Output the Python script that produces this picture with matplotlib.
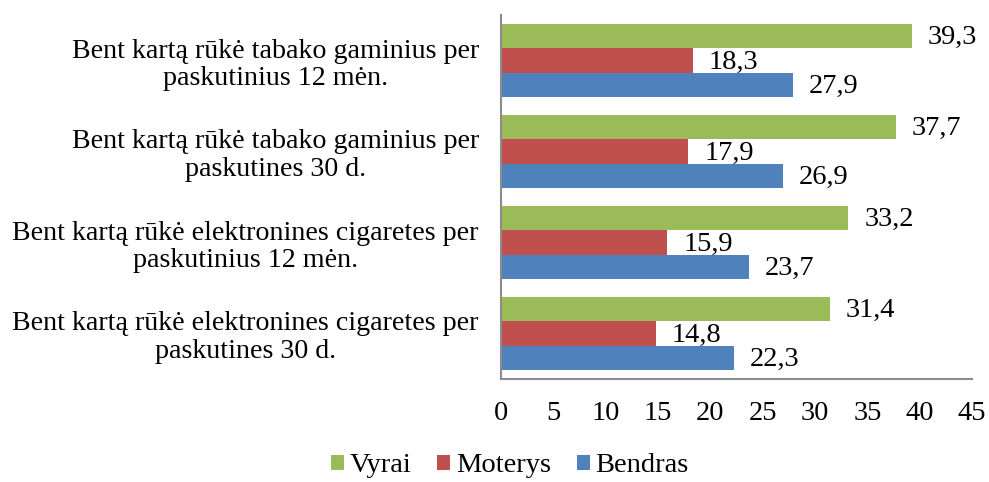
import numpy as np
import matplotlib.pyplot as plt

plt.rcParams['font.family'] = ['Liberation Serif', 'DejaVu Serif']

categories = [
    "Bent kartą rūkė tabako gaminius per\npaskutinius 12 mėn.",
    "Bent kartą rūkė tabako gaminius per\npaskutines 30 d.",
    "Bent kartą rūkė elektronines cigaretes per\npaskutinius 12 mėn.",
    "Bent kartą rūkė elektronines cigaretes per\npaskutines 30 d.",
]
vyrai = [39.3, 37.7, 33.2, 31.4]
moterys = [18.3, 17.9, 15.9, 14.8]
bendras = [27.9, 26.9, 23.7, 22.3]

series = [("Vyrai", vyrai, "#9BBB59"),
          ("Moterys", moterys, "#C0504D"),
          ("Bendras", bendras, "#4F81BD")]

fs = 20.5
fig = plt.figure(figsize=(9.89, 4.82), dpi=100)
ax = fig.add_axes([501 / 989, 1 - 379 / 482, 471 / 989, 364 / 482])

y = np.arange(len(categories))
h = 0.27
offsets = [-h, 0, h]
for (name, vals, col), off in zip(series, offsets):
    bars = ax.barh(y + off, vals, height=h, color=col, label=name)
    for b, v in zip(bars, vals):
        ax.text(b.get_width() + 1.5, b.get_y() + b.get_height() / 2 + 0.02,
                f"{v:.1f}".replace(".", ","), va="center", ha="left", fontsize=fs)

ax.set_ylim(len(categories) - 0.5, -0.5)
ax.set_xlim(0, 45)
ax.set_xticks(range(0, 46, 5))
ax.set_yticks(y)
ax.set_yticklabels(categories, fontsize=20.2, multialignment="center", linespacing=1.15)
ax.tick_params(axis="x", length=0, labelsize=fs, pad=16)
ax.tick_params(axis="y", length=0, pad=16)
for s in ["top", "right"]:
    ax.spines[s].set_visible(False)
for s in ["left", "bottom"]:
    ax.spines[s].set_color("#8c8c8c")
    ax.spines[s].set_linewidth(1.5)

fig.legend(loc="center", bbox_to_anchor=(510 / 989, 1 - 466 / 482), ncol=3,
           frameon=False, fontsize=fs, handlelength=0.46, handleheight=0.46,
           handletextpad=0.2, columnspacing=0.9)

fig.savefig("out.png", dpi=100)
